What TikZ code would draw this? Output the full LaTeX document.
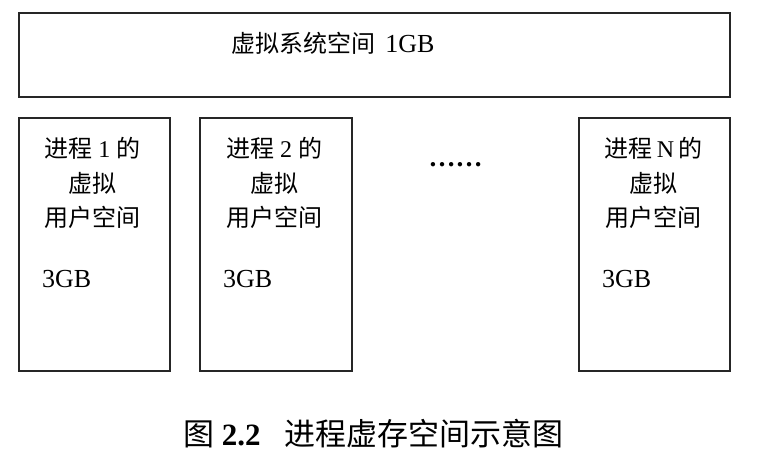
\documentclass[tikz,border=0pt]{standalone}
\usepackage{fontspec}
\setmainfont{Liberation Serif}
\newfontfamily\cjk{Noto Sans CJK SC}
\newcommand{\latbig}{\fontsize{26}{28}\selectfont}
\tikzset{
  box/.style={draw=black!85, line width=1.7pt},
  lbl/.style={inner sep=0pt, font=\fontsize{24}{28}\selectfont, text=black},
  captext/.style={inner sep=0pt, font=\fontsize{31}{34}\selectfont, text=black}
}
\begin{document}
\begin{tikzpicture}[x=1pt,y=-1pt]
\useasboundingbox (0,0) rectangle (780,472);
% system space
\draw[box] (19,13) rectangle (730,97);
\node[lbl] (sys) at (333,43) {{\cjk 虚拟系统空间}\hspace{10pt}{\latbig 1GB}};
% process boxes
\draw[box] (19,118) rectangle (170,371);
\draw[box] (200,118) rectangle (352,371);
\draw[box] (579,118) rectangle (730,371);
% process 1
\node[lbl] (p1a) at (92.5,148) {{\cjk 进程} 1 {\cjk 的}};
\node[lbl] (p1b) at (92.5,183) {\cjk 虚拟};
\node[lbl] (p1c) at (92.5,217) {\cjk 用户空间};
\node[lbl,anchor=west,font=\latbig] (p1d) at (42,279) {3GB};
% process 2
\node[lbl] (p2a) at (274,148) {{\cjk 进程} 2 {\cjk 的}};
\node[lbl] (p2b) at (274,183) {\cjk 虚拟};
\node[lbl] (p2c) at (274,217) {\cjk 用户空间};
\node[lbl,anchor=west,font=\latbig] (p2d) at (223,279) {3GB};
% process N
\node[lbl] (pna) at (653.5,148) {{\cjk 进程}\,N\,{\cjk 的}};
\node[lbl] (pnb) at (653.5,183) {\cjk 虚拟};
\node[lbl] (pnc) at (653.5,217) {\cjk 用户空间};
\node[lbl,anchor=west,font=\latbig] (pnd) at (602,279) {3GB};
% dots
\node[inner sep=0pt, anchor=base, font=\fontsize{27}{30}\selectfont\bfseries] (dots) at (455.5,166) {……};
% caption
\node[captext, anchor=base west] (caption) at (183,445) {{\cjk 图} \textbf{2.2}\hspace{24pt}{\cjk 进程虚存空间示意图}};
\end{tikzpicture}
\end{document}
